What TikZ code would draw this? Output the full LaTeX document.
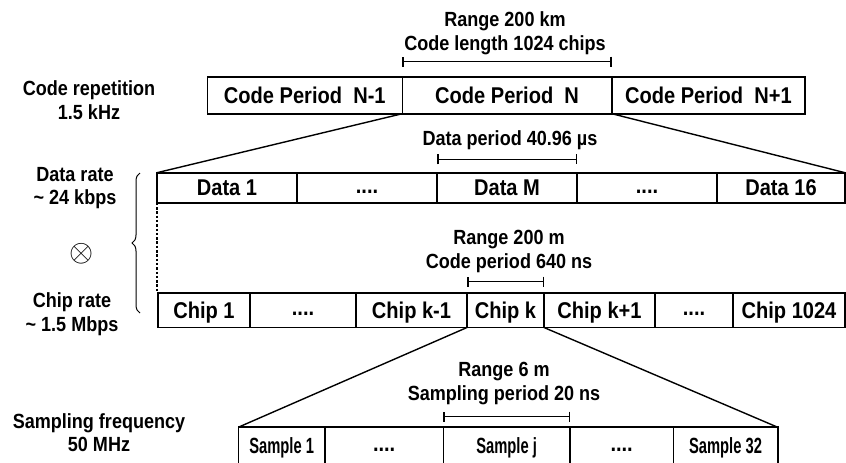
\documentclass[tikz,border=0pt]{standalone}
\usepackage{fontspec}
\setmainfont{Liberation Sans}[FakeStretch=0.88]
\newfontfamily\smpfont{Liberation Sans}[FakeStretch=0.67]
\usepackage{graphicx}
\usetikzlibrary{arrows.meta,decorations.pathreplacing}
\begin{document}
\begin{tikzpicture}[x=1pt,y=-1pt,
  cell/.style={draw, line width=1.6pt, inner sep=0pt, outer sep=0pt,
    font=\fontsize{22.8}{26}\selectfont\bfseries, text height=16.3pt, text depth=0pt},
  toprow/.style={cell, minimum height=37pt},
  datarow/.style={cell, minimum height=30pt},
  chiprow/.style={cell, minimum height=34.8pt},
  samprow/.style={cell, minimum height=36.7pt,
    font=\fontsize{22}{26}\selectfont\smpfont\bfseries, text height=15.8pt},
  dotcell/.style={font=\fontsize{22.8}{26}\selectfont\bfseries},
  lbl/.style={font=\fontsize{20.5}{23.5}\selectfont\bfseries, align=center, inner sep=0pt},
  fan/.style={line width=1.4pt},
  meas/.style={line width=1.5pt, {Bar[width=10pt,line width=1.5pt]}-{Bar[width=10pt,line width=1.5pt]}}
]
\useasboundingbox (0,0) rectangle (846,463);
\clip (0,0) rectangle (846,463);
\newcommand\dd{\raisebox{2.5pt}{....}}

% top row
\node[toprow, minimum width=195pt]   (cp1) at (304.8,95.2) {Code Period\ \ N-1};
\node[toprow, minimum width=209.5pt] (cpN) at (507.05,95.2) {Code Period\ \ N};
\node[toprow, minimum width=193.2pt] (cp2) at (708.4,95.2) {Code Period\ \ N+1};

% data row
\node[datarow, minimum width=140pt] (d1)  at (227,187.7) {Data 1};
\node[datarow, minimum width=140pt] (dd1) at (367,187.7) {\dd};
\node[datarow, minimum width=140pt] (dM)  at (507,187.7) {Data M};
\node[datarow, minimum width=140pt] (dd2) at (647,187.7) {\dd};
\node[datarow, minimum width=128pt] (d16) at (781,187.7) {Data 16};

% chip row
\node[chiprow, minimum width=92pt]  (c1)    at (204,310.1)   {Chip 1};
\node[chiprow, minimum width=106pt] (cd1)   at (303,310.1)   {\dd};
\node[chiprow, minimum width=111pt] (ckm)   at (411.5,310.1) {Chip k-1};
\node[chiprow, minimum width=77pt]  (ck)    at (505.5,310.1) {Chip k};
\node[chiprow, minimum width=111pt] (ckp)   at (599.5,310.1) {Chip k+1};
\node[chiprow, minimum width=78pt]  (cd2)   at (694,310.1)   {\dd};
\node[chiprow, minimum width=112pt] (c1024) at (789,310.1)   {Chip 1024};

% sample row
\node[samprow, minimum width=86.7pt]  (s1)  at (281.65,445.6) {Sample 1};
\node[samprow, dotcell, minimum width=118.3pt] (sd1) at (384.15,445.6) {\dd};
\node[samprow, minimum width=126.7pt] (sj)  at (506.65,445.6) {Sample j};
\node[samprow, dotcell, minimum width=103.3pt] (sd2) at (621.65,445.6) {\dd};
\node[samprow, minimum width=104.4pt] (s32) at (725.5,445.6) {Sample 32};

% fan lines
\draw[fan] (cpN.south west) -- (d1.north west);
\draw[fan] (cpN.south east) -- (d16.north east);
\draw[fan] (ck.south west) -- (s1.north west);
\draw[fan] (ck.south east) -- (s32.north east);

% measurement bars
\draw[meas] ([yshift=15pt]cpN.north west) -- ([yshift=15pt]cpN.north east);
\draw[meas] ([yshift=13.4pt]dM.north west) -- ([yshift=13.4pt]dM.north east);
\draw[meas] ([yshift=11pt]ck.north west) -- ([yshift=11pt]ck.north east);
\draw[meas] ([yshift=10.6pt]sj.north west) -- ([yshift=10.6pt]sj.north east);

% dotted link between data and chip rows
\draw[line width=1.8pt, dash pattern=on 2.5pt off 1.8pt] (d1.south west) -- (d1.south west |- c1.north west);

% brace
\coordinate (bb) at (140,313);
\coordinate (bt) at (140,173);
\draw[line width=1pt, decorate, decoration={brace, amplitude=8pt}] (bb) -- (bt);

% multiplication sign
\node (ox) at (81.7,254) {\scalebox{3.1}{$\otimes$}};

% labels
\node[lbl, anchor=north] (rk)  at (505,11.7)  {Range 200 km\\Code length 1024 chips};
\node[lbl, anchor=base]  (dp)  at (510,145)   {Data period 40.96 µs};
\node[lbl, anchor=north] (rm)  at (509,230)   {Range 200 m\\Code period 640 ns};
\node[lbl, anchor=north] (r6)  at (504,362)   {Range 6 m\\Sampling period 20 ns};
\node[lbl, anchor=north] (cr)  at (89,80.5)   {Code repetition\\1.5 kHz};
\node[lbl, anchor=north] (dr)  at (75,166.7)  {Data rate\\\textasciitilde{} 24 kbps};
\node[lbl, anchor=north] (chr) at (72,292.7)  {Chip rate\\\textasciitilde{} 1.5 Mbps};
\node[lbl, anchor=north] (sf)  at (99,413)    {Sampling frequency\\50 MHz};
\end{tikzpicture}
\end{document}
